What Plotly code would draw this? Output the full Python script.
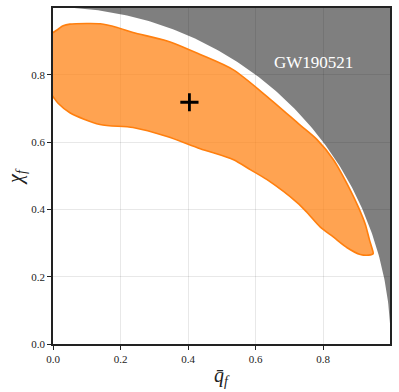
import numpy as np
import plotly.graph_objects as go

# 90% credible contour of the final black hole (charge, spin) for GW190521
contour_q = [-0.02, 0.0, 0.015, 0.03, 0.05, 0.10, 0.14, 0.19, 0.237, 0.338, 0.436, 0.533, 0.634,
             0.732, 0.782, 0.83, 0.88, 0.905, 0.925, 0.937, 0.946, 0.948, 0.935, 0.91, 0.871,
             0.83, 0.791, 0.753, 0.723, 0.634, 0.584, 0.533, 0.436, 0.338, 0.237, 0.139,
             0.05, 0.015, 0.0, -0.02]
contour_chi = [0.91, 0.925, 0.935, 0.945, 0.95, 0.952, 0.951, 0.94, 0.925, 0.90, 0.86, 0.815, 0.735,
               0.65, 0.607, 0.548, 0.458, 0.405, 0.355, 0.31, 0.28, 0.268, 0.264, 0.266, 0.286,
               0.318, 0.348, 0.39, 0.42, 0.488, 0.518, 0.548, 0.58, 0.616, 0.643, 0.652,
               0.687, 0.715, 0.735, 0.76]

# maximum-likelihood point
q_peak = [0.404]
chi_peak = [0.718]

event_label = "GW190521"
tick_vals = [0.0, 0.2, 0.4, 0.6, 0.8]
tick_text = ["0.0", "0.2", "0.4", "0.6", "0.8"]

SERIF = "Liberation Serif"

# Kerr-Newman bound q^2 + chi^2 <= 1 (excluded region)
theta = np.linspace(np.pi / 2, 0, 200)
arc_q = np.cos(theta)
arc_chi = np.sin(theta)
excl_q = list(arc_q) + [1.2, 1.2, 0.0]
excl_chi = list(arc_chi) + [0.0, 1.2, 1.2]

fig = go.Figure()
fig.add_trace(go.Scatter(x=excl_q, y=excl_chi, mode="lines", fill="toself",
                         fillcolor="rgba(0,0,0,0.5)", line=dict(width=0),
                         hoverinfo="skip", showlegend=False))
fig.add_trace(go.Scatter(x=contour_q, y=contour_chi, mode="lines", fill="toself",
                         fillcolor="rgba(255,127,14,0.72)",
                         line=dict(color="#ff7f0e", width=1.6, shape="spline", smoothing=0.8),
                         showlegend=False))
fig.add_trace(go.Scatter(x=q_peak, y=chi_peak, mode="markers",
                         marker=dict(symbol="cross-thin", size=13, color="black",
                                     line=dict(width=2.8, color="black")),
                         showlegend=False))

fig.add_annotation(x=0.77, y=0.836, xref="x", yref="y", text=event_label, showarrow=False,
                   font=dict(family=SERIF, size=17, color="white"))

# axis titles placed as annotations
fig.add_annotation(x=0.5, y=-0.055, xref="paper", yref="paper", yanchor="top",
                   text="<i>q̄</i><sub><i>f</i></sub>", showarrow=False,
                   font=dict(family=SERIF, size=20, color="#222"))
fig.add_annotation(x=-0.11, y=0.5, xref="paper", yref="paper", xanchor="center",
                   text="<i>χ</i><sub><i>f</i></sub>", showarrow=False, textangle=-90,
                   font=dict(family=SERIF, size=20, color="#222"))

axis_common = dict(range=[0, 0.998], tickvals=tick_vals, ticktext=tick_text,
                   showgrid=True, gridcolor="rgba(0,0,0,0.09)", gridwidth=1,
                   showline=True, linecolor="#222", linewidth=1.5, mirror=True,
                   ticks="outside", ticklen=4, tickwidth=1.2, tickcolor="#222",
                   zeroline=False, automargin=False,
                   tickfont=dict(family=SERIF, size=11, color="#222"))

fig.update_layout(
    width=399, height=392,
    margin=dict(l=53, r=9, t=8, b=48, autoexpand=False),
    plot_bgcolor="white", paper_bgcolor="white",
    xaxis=dict(**axis_common),
    yaxis=dict(**axis_common),
)

fig.write_html("out.html", config={"displayModeBar": False},
               post_script="document.body.style.margin='0';")
